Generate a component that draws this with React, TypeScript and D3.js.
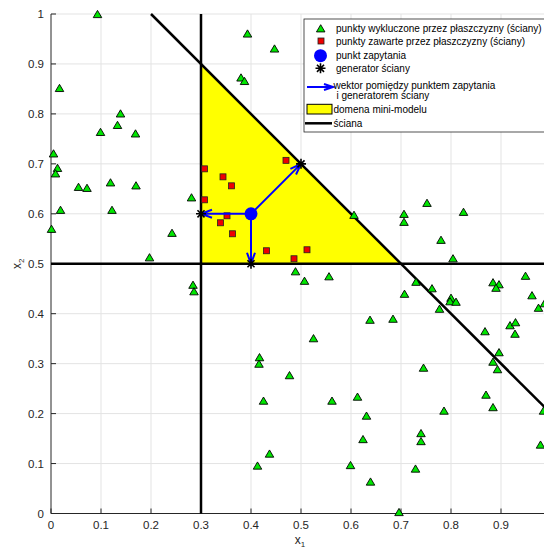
import React from "react";
import * as d3 from "d3";

// Points rejected by the planes (walls)
const excludedX = [0.093, 0.017, 0.139, 0.099, 0.133, 0.169, 0.005, 0.013, 0.009, 0.055, 0.072, 0.119, 0.17, 0.281, 0.019, 0.122, 0.001, 0.242, 0.197, 0.284, 0.286,
  0.393, 0.447, 0.38, 0.387,
  0.606, 0.752, 0.706, 0.706, 0.825, 0.78, 0.804, 0.489, 0.507, 0.556, 0.73, 0.762, 0.707, 0.8, 0.798, 0.81, 0.777, 0.884, 0.896, 0.89, 0.949, 0.962, 0.975, 0.987,
  0.638, 0.684, 0.918, 0.929, 0.928, 0.868, 0.896, 0.884, 0.893, 0.745, 0.87, 0.884, 0.786, 0.985, 0.631, 0.624, 0.74, 0.74, 0.979, 0.729, 0.639, 0.696,
  0.525, 0.417, 0.416, 0.477, 0.425, 0.562, 0.613, 0.437, 0.413, 0.599];
const excludedY = [1.0, 0.852, 0.801, 0.764, 0.778, 0.761, 0.721, 0.692, 0.681, 0.654, 0.652, 0.663, 0.657, 0.633, 0.608, 0.608, 0.57, 0.562, 0.513, 0.458, 0.445,
  0.961, 0.931, 0.873, 0.866,
  0.598, 0.622, 0.6, 0.584, 0.604, 0.548, 0.511, 0.485, 0.466, 0.475, 0.464, 0.451, 0.44, 0.432, 0.425, 0.424, 0.41, 0.463, 0.459, 0.452, 0.476, 0.437, 0.412, 0.421,
  0.388, 0.39, 0.377, 0.383, 0.36, 0.365, 0.323, 0.304, 0.289, 0.292, 0.238, 0.213, 0.206, 0.206, 0.196, 0.149, 0.161, 0.145, 0.138, 0.09, 0.064, 0.003,
  0.351, 0.313, 0.3, 0.277, 0.226, 0.226, 0.234, 0.12, 0.096, 0.097];

// Points kept inside the planes
const includedX = [0.307, 0.344, 0.361, 0.307, 0.47, 0.352, 0.339, 0.363, 0.431, 0.512, 0.486];
const includedY = [0.69, 0.674, 0.656, 0.628, 0.707, 0.596, 0.582, 0.56, 0.526, 0.528, 0.51];

const queryPoint: [number, number] = [0.4, 0.6];
const generatorsX = [0.3, 0.4, 0.5];
const generatorsY = [0.6, 0.5, 0.7];

// Mini-model domain and the walls bounding it
const domainX = [0.3, 0.3, 0.7];
const domainY = [0.5, 0.9, 0.5];
const walls: [number, number][][] = [
  [[0.3, 0], [0.3, 1]],
  [[0, 0.5], [1, 0.5]],
  [[0.2, 1], [1, 0.2]],
];

const xTicks = [0, 0.1, 0.2, 0.3, 0.4, 0.5, 0.6, 0.7, 0.8, 0.9, 1];
const yTicks = [0, 0.1, 0.2, 0.3, 0.4, 0.5, 0.6, 0.7, 0.8, 0.9, 1];
const tickLabelsX = ["0", "0.1", "0.2", "0.3", "0.4", "0.5", "0.6", "0.7", "0.8", "0.9", "1"];
const tickLabelsY = ["0", "0.1", "0.2", "0.3", "0.4", "0.5", "0.6", "0.7", "0.8", "0.9", "1"];

const legendLabels = [
  "punkty wykluczone przez płaszczyzny (ściany)",
  "punkty zawarte przez płaszczyzny (ściany)",
  "punkt zapytania",
  "generator ściany",
  "wektor pomiędzy punktem zapytania",
  "i generatorem ściany",
  "domena mini-modelu",
  "ściana",
];

const W = 544;
const H = 551;
const FONT = "'Liberation Sans', Arial, Helvetica, sans-serif";
const AXIS = "#262626";
const GREEN = "#00e600";
const RED = "#ee0000";
const BLUE = "#0000ff";

const x = d3.scaleLinear().domain([0, 1]).range([51, 551]);
const y = d3.scaleLinear().domain([0, 1]).range([513.5, 14]);

const triPath = (cx: number, cy: number, s = 8.5) => {
  const h = s * 0.85;
  return `M${cx},${cy - h / 2}L${cx + s / 2},${cy + h / 2}L${cx - s / 2},${cy + h / 2}Z`;
};

const starPath = (cx: number, cy: number, r = 5) => {
  const d = r * Math.SQRT1_2;
  return `M${cx - r},${cy}L${cx + r},${cy}M${cx},${cy - r}L${cx},${cy + r}` +
    `M${cx - d},${cy - d}L${cx + d},${cy + d}M${cx - d},${cy + d}L${cx + d},${cy - d}`;
};

const arrowPath = (x0: number, y0: number, x1: number, y1: number, len = 11, half = 4) => {
  const a = Math.atan2(y1 - y0, x1 - x0);
  const bx = x1 - len * Math.cos(a);
  const by = y1 - len * Math.sin(a);
  const nx = -Math.sin(a) * half;
  const ny = Math.cos(a) * half;
  return `M${x0},${y0}L${x1},${y1}M${bx + nx},${by + ny}L${x1},${y1}L${bx - nx},${by - ny}`;
};

export default function App() {
  const line = d3.line<[number, number]>().x((d) => x(d[0])).y((d) => y(d[1]));
  const domainPts: [number, number][] = domainX.map((v, i) => [v, domainY[i]]);
  const domainArea = line(domainPts) + "Z";
  const qx = x(queryPoint[0]);
  const qy = y(queryPoint[1]);

  const legX = 304;
  const legY = 19;
  const rows = [28.3, 41, 55.7, 68.3, 85, 95.5, 109.3, 123.3];
  const textX = [336, 336, 336, 336, 333.5, 336.5, 333.5, 333.5];

  return (
    <svg width={W} height={H} style={{ position: "fixed", left: 0, top: 0, background: "#fff" }} fontFamily={FONT}>
      <rect x={0} y={0} width={W} height={H} fill="#fff" />
      {/* grid */}
      <g stroke="#e3e3e3" strokeWidth={1}>
        {xTicks.slice(1).map((t) => (
          <line key={"gx" + t} x1={x(t)} x2={x(t)} y1={y(0)} y2={y(1)} />
        ))}
        {yTicks.slice(1).map((t) => (
          <line key={"gy" + t} x1={x(0)} x2={x(1)} y1={y(t)} y2={y(t)} />
        ))}
      </g>
      {/* axes */}
      <g stroke={AXIS} strokeWidth={1}>
        <line x1={x(0)} x2={x(0)} y1={y(0)} y2={y(1)} />
        <line x1={x(0)} x2={x(1)} y1={y(0)} y2={y(0)} />
        {xTicks.map((t) => (
          <line key={"tx" + t} x1={x(t)} x2={x(t)} y1={y(0)} y2={y(0) - 5} />
        ))}
        {yTicks.map((t) => (
          <line key={"ty" + t} x1={x(0)} x2={x(0) + 5} y1={y(t)} y2={y(t)} />
        ))}
      </g>
      <g fill={AXIS} fontSize={11.5}>
        {xTicks.filter((t) => x(t) < W - 4).map((t, i) => (
          <text key={"lx" + t} x={x(t)} y={y(0) + 15} textAnchor="middle">{tickLabelsX[i]}</text>
        ))}
        {yTicks.map((t, i) => (
          <text key={"ly" + t} x={x(0) - 7} y={y(t) + 4} textAnchor="end">{tickLabelsY[i]}</text>
        ))}
        <text x={(x(0) + x(1)) / 2 - 1} y={544} textAnchor="middle" fontSize={12}>
          x<tspan fontSize={8} dy={3}>1</tspan>
        </text>
        <text transform={`translate(21,${(y(0) + y(1)) / 2}) rotate(-90)`} textAnchor="middle" fontSize={12}>
          x<tspan fontSize={8} dy={3}>2</tspan>
        </text>
      </g>
      {/* mini-model domain */}
      <path d={domainArea} fill="#ffff00" stroke="none" />
      {/* walls */}
      <g stroke="#000" strokeWidth={2.5} fill="none">
        {walls.map((w, i) => (
          <path key={"w" + i} d={line(w) || ""} />
        ))}
      </g>
      {/* excluded points */}
      <g fill={GREEN} stroke="#000" strokeWidth={0.9}>
        {excludedX.map((v, i) => (
          <path key={"e" + i} d={triPath(x(v), y(excludedY[i]))} />
        ))}
      </g>
      {/* included points */}
      <g fill={RED} stroke="#222" strokeWidth={0.8}>
        {includedX.map((v, i) => (
          <rect key={"in" + i} x={x(v) - 3} y={y(includedY[i]) - 3} width={6} height={6} />
        ))}
      </g>
      {/* vectors from query point to wall generators */}
      <g stroke={BLUE} strokeWidth={2} fill="none">
        {generatorsX.map((v, i) => (
          <path key={"a" + i} d={arrowPath(qx, qy, x(v), y(generatorsY[i]))} />
        ))}
      </g>
      <g stroke="#000" strokeWidth={1.6}>
        {generatorsX.map((v, i) => (
          <path key={"g" + i} d={starPath(x(v), y(generatorsY[i]))} />
        ))}
      </g>
      <circle cx={qx} cy={qy} r={6.5} fill={BLUE} />
      {/* legend */}
      <g>
        <rect x={legX} y={legY} width={260} height={113} fill="#fff" stroke="#262626" strokeWidth={0.8} />
        <path d={triPath(320.7, rows[0])} fill={GREEN} stroke="#000" strokeWidth={0.9} />
        <rect x={318} y={rows[1] - 3} width={6} height={6} fill={RED} stroke="#222" strokeWidth={0.8} />
        <circle cx={320.5} cy={rows[2]} r={6.5} fill={BLUE} />
        <path d={starPath(320.5, rows[3])} stroke="#000" strokeWidth={1.6} />
        <path d={arrowPath(307, 87, 333, 87, 9, 3)} stroke={BLUE} strokeWidth={2} fill="none" />
        <rect x={307} y={104.3} width={25} height={9.7} fill="#ffff00" stroke="#000" strokeWidth={1} />
        <line x1={305} x2={332} y1={rows[7]} y2={rows[7]} stroke="#000" strokeWidth={2.5} />
        <g fontSize={10} fill="#000">
          {legendLabels.map((l, i) => (
            <text key={"t" + i} x={textX[i]} y={rows[i] + 3.5}>{l}</text>
          ))}
        </g>
      </g>
    </svg>
  );
}
